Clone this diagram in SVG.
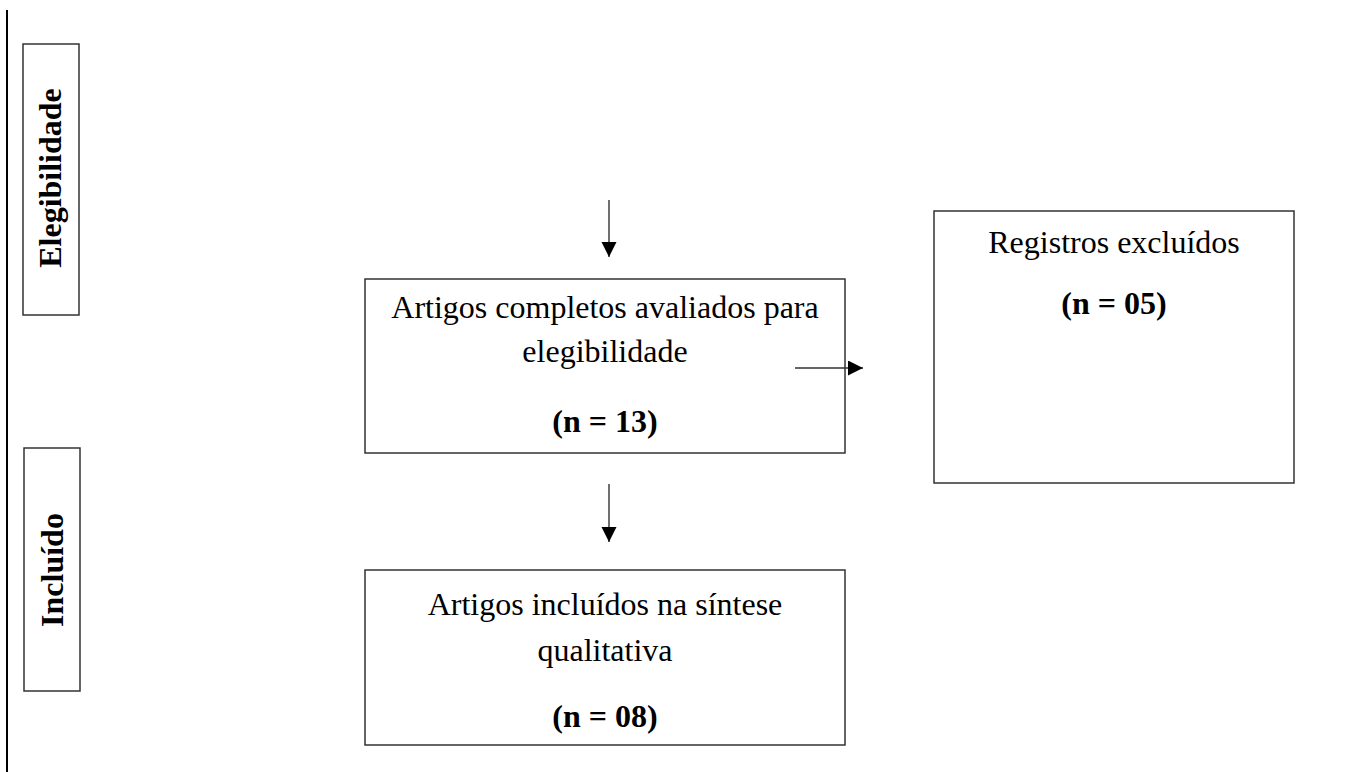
<svg xmlns="http://www.w3.org/2000/svg" width="1370" height="772" viewBox="0 0 1370 772">
<style>
.box{fill:#fff;stroke:#333;stroke-width:1.5}
.t{font-family:"Liberation Serif","Times New Roman",serif;font-size:32px;fill:#000;text-anchor:middle}
.b{font-weight:bold}
.c{stroke:#333;stroke-width:1.4;fill:none}
</style>
<defs>
<marker id="ah" markerUnits="userSpaceOnUse" markerWidth="16" markerHeight="16" refX="15" refY="7.5" orient="auto">
<path d="M0,0 L15,7.5 L0,15 Z" fill="#000"/>
</marker>
</defs>
<rect width="1370" height="772" fill="#fff"/>
<line x1="7" y1="10" x2="7" y2="772" stroke="#000" stroke-width="2"/>
<g id="elegibilidade">
<rect class="box" x="23" y="44" width="56" height="271"/>
<text class="t b" transform="translate(61,178) rotate(-90)">Elegibilidade</text>
</g>
<g id="incluido">
<rect class="box" x="24" y="448" width="56" height="243"/>
<text class="t b" transform="translate(63,570) rotate(-90)">Incluído</text>
</g>
<g id="avaliados">
<rect class="box" x="365" y="279" width="480" height="174"/>
<text class="t" x="605" y="318">Artigos completos avaliados para</text>
<text class="t" x="605" y="362">elegibilidade</text>
<text class="t b" x="605" y="432">(n = 13)</text>
</g>
<g id="excluidos">
<rect class="box" x="934" y="211" width="360" height="272"/>
<text class="t" x="1114" y="253">Registros excluídos</text>
<text class="t b" x="1114" y="314">(n = 05)</text>
</g>
<g id="incluidos">
<rect class="box" x="365" y="570" width="480" height="175"/>
<text class="t" x="605" y="615">Artigos incluídos na síntese</text>
<text class="t" x="605" y="661">qualitativa</text>
<text class="t b" x="605" y="727">(n = 08)</text>
</g>
<g id="connectors">
<line class="c" x1="609" y1="200" x2="609" y2="257" marker-end="url(#ah)"/>
<line class="c" x1="795" y1="368" x2="863" y2="368" marker-end="url(#ah)"/>
<line class="c" x1="609" y1="484" x2="609" y2="542" marker-end="url(#ah)"/>
</g>
</svg>
